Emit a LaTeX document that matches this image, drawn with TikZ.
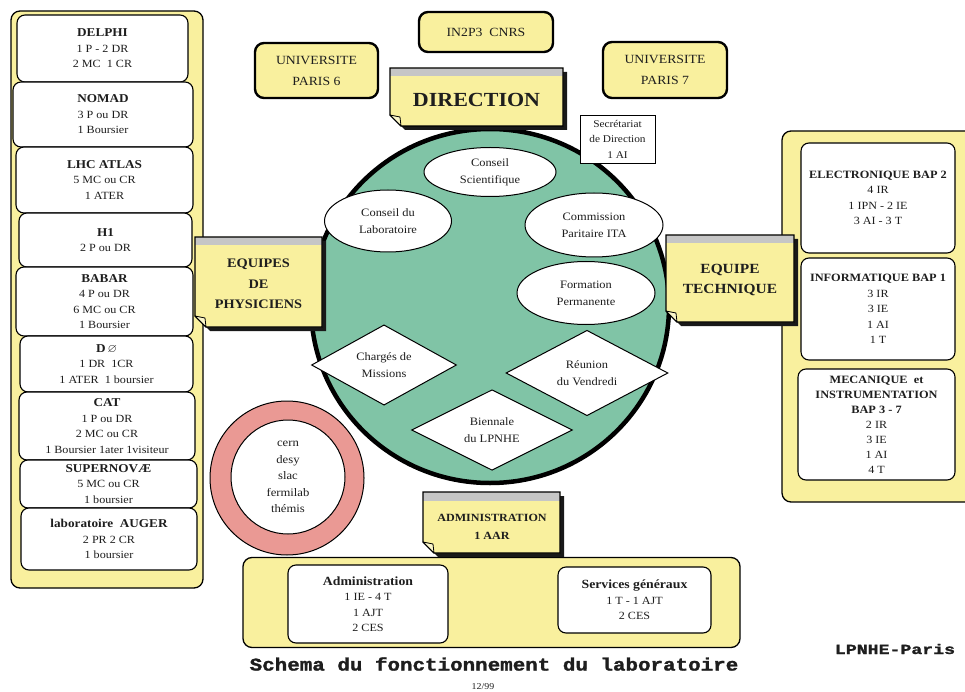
\documentclass[tikz,border=0pt]{standalone}
\usepackage{amssymb}
\usepackage{fontspec}
\setmainfont{Liberation Serif}[FakeStretch=1.1]
\newfontfamily\titlefont{Liberation Mono}[FakeStretch=1.16, BoldFeatures={FakeBold=1.5}]
\newfontfamily\lpfont{Liberation Mono}[FakeStretch=1.3, BoldFeatures={FakeBold=1.2}]
\usetikzlibrary{shapes.geometric}
\definecolor{yel}{RGB}{249,240,158}
\definecolor{grn}{RGB}{128,196,166}
\definecolor{pnk}{RGB}{234,153,148}
\definecolor{stripc}{RGB}{198,198,198}
\definecolor{ink}{RGB}{30,30,30}
\definecolor{shadowc}{RGB}{25,25,25}
\newcommand\bhead[1]{{\bfseries\fontsize{12}{15.5}\selectfont #1}}
\newcommand\rhead[1]{{\bfseries\fontsize{11.2}{15.3}\selectfont #1}}
\begin{document}
\begin{tikzpicture}[x=1pt,y=-1pt,
  panel/.style={draw=black, line width=1.3pt, fill=yel, rounded corners=9pt, inner sep=0pt},
  wbox/.style={draw=black, line width=1.1pt, fill=white, rounded corners=8pt, align=center, inner sep=0pt, text=ink, font=\fontsize{11}{15.5}\selectfont},
  ubox/.style={draw=black, line width=2.4pt, fill=yel, rounded corners=9pt, align=center, inner sep=0pt, text=ink, font=\fontsize{12.5}{21}\selectfont},
  ell/.style={ellipse, draw=black, line width=1pt, fill=white, align=center, inner sep=0pt, text=ink, font=\fontsize{11.3}{17}\selectfont},
  dia/.style={diamond, draw=black, line width=1pt, fill=white, align=center, inner sep=0pt, text=ink, font=\fontsize{11.3}{17}\selectfont},
  notearea/.style={inner sep=0pt, outer sep=0pt},
  notetext/.style={align=center, text=ink, inner sep=0pt}
]
\path[use as bounding box, clip] (0,0) rectangle (965,692);
\fill[white] (0,0) rectangle (965,692);

% panels
\node[panel, minimum width=192, minimum height=577] (lpanel) at (107,299.5) {};
\node[panel, minimum width=200, minimum height=371] (rpanel) at (882,316.5) {};
\node[panel, minimum width=497, minimum height=90] (bpanel) at (491.5,602.5) {};

% left boxes
\node[wbox, minimum width=171, minimum height=67] (delphi) at (102.5,48.5) {\bhead{DELPHI}\\1 P - 2 DR\\2 MC\ \ 1 CR};
\node[wbox, minimum width=180, minimum height=65] (nomad) at (103,114.5) {\bhead{NOMAD}\\3 P ou DR\\1 Boursier};
\node[wbox, minimum width=177, minimum height=66] (atlas) at (104.5,180) {\bhead{LHC ATLAS}\\5 MC ou CR\\1 ATER};
\node[wbox, minimum width=173, minimum height=54] (hone) at (105.5,240) {\bhead{H1}\\2 P ou DR};
\node[wbox, minimum width=177, minimum height=69] (babar) at (104.5,301.5) {\bhead{BABAR}\\4 P ou DR\\6 MC ou CR\\1 Boursier};
\node[wbox, minimum width=173, minimum height=56] (dzero) at (106.5,364) {\bhead{D\,$\varnothing$}\\1 DR\ \ 1CR\\1 ATER\ \ 1 boursier};
\node[wbox, minimum width=176, minimum height=68] (cat) at (107,426) {\bhead{CAT}\\1 P ou DR\\2 MC ou CR\\1 Boursier 1ater 1visiteur};
\node[wbox, minimum width=177, minimum height=48] (snova) at (108.5,484) {\bhead{SUPERNOVÆ}\\5 MC ou CR\\1 boursier};
\node[wbox, minimum width=176, minimum height=62] (auger) at (109,539) {\bhead{laboratoire\ \ AUGER}\\2 PR 2 CR\\1 boursier};

% right boxes
\node[wbox, minimum width=154, minimum height=110] (elec) at (878,198) {\rhead{ELECTRONIQUE BAP 2}\\4 IR\\1 IPN - 2 IE\\3 AI - 3 T};
\node[wbox, minimum width=154, minimum height=102] (info) at (878,309) {\rhead{INFORMATIQUE BAP 1}\\3 IR\\3 IE\\1 AI\\1 T};
\node[wbox, minimum width=157, minimum height=111, font=\fontsize{11}{15}\selectfont] (meca) at (876.5,424.5) {\rhead{MECANIQUE\ \ et}\\\rhead{INSTRUMENTATION}\\\rhead{BAP 3 - 7}\\2 IR\\3 IE\\1 AI\\4 T};

% bottom boxes
\node[wbox, minimum width=160, minimum height=78] (admbox) at (368,604) {{\bfseries\fontsize{12.5}{15.5}\selectfont Administration}\\1 IE - 4 T\\1 AJT\\2 CES};
\node[wbox, minimum width=153, minimum height=66] (serv) at (634.5,600) {{\bfseries\fontsize{12.5}{15.5}\selectfont Services généraux}\\1 T - 1 AJT\\2 CES};

% top boxes
\node[ubox, minimum width=123, minimum height=55] (up6) at (316.5,70.5) {UNIVERSITE\\PARIS 6};
\node[ubox, minimum width=134, minimum height=40] (in2p3) at (486,32) {IN2P3\ \ CNRS};
\node[ubox, minimum width=124, minimum height=56] (up7) at (665,70) {UNIVERSITE\\PARIS 7};

% big circle
\node[ellipse, draw=black, line width=4.5pt, fill=grn, minimum width=358, minimum height=354] (circ) at (490,306) {};
\node[ell, minimum width=132, minimum height=49] (cs) at (490,172) {Conseil\\Scientifique};
\node[ell, minimum width=127, minimum height=62] (cl) at (388,221) {Conseil du\\Laboratoire};
\node[ell, minimum width=138, minimum height=64] (cp) at (594,225) {Commission\\Paritaire ITA};
\node[ell, minimum width=138, minimum height=63] (fp) at (586,293) {Formation\\Permanente};
\node[dia, minimum width=145, minimum height=73] (cm) at (384,365) {Chargés de\\Missions};
\node[dia, minimum width=162, minimum height=74] (rv) at (587,373) {Réunion\\du Vendredi};
\node[dia, minimum width=161, minimum height=76] (bl) at (492,430) {Biennale\\du LPNHE};

% secretariat
\node[draw=black, line width=0.8pt, fill=white, minimum width=75, minimum height=48, inner sep=0pt, align=center, text=ink, font=\fontsize{10.3}{15.5}\selectfont] (secr) at (617.5,139) {Secrétariat\\de Direction\\1 AI};

% ring
\node[circle, draw=black, line width=1pt, fill=pnk, minimum size=154, inner sep=0pt] (ringO) at (287,478) {};
\node[circle, draw=black, line width=1pt, fill=white, minimum size=114, inner sep=0pt, align=center, text=ink, font=\fontsize{11.5}{16.5}\selectfont] (ringI) at (288,477) {cern\\desy\\slac\\fermilab\\thémis};

% note boxes
\node[notearea, minimum width=173, minimum height=58] (dir) at (476.5,97) {};
\node[notearea, minimum width=127, minimum height=90] (phys) at (258.5,282) {};
\node[notearea, minimum width=128, minimum height=87] (tech) at (730,278.5) {};
\node[notearea, minimum width=137, minimum height=61] (adm) at (491.5,522.5) {};
\foreach \n in {dir,phys,tech,adm}{
  \fill[shadowc] ([shift={(4,4)}]\n.north west) -- ([shift={(4,4)}]\n.north east) -- ([shift={(4,4)}]\n.south east) -- ([shift={(15,4)}]\n.south west) -- ([shift={(4,-7)}]\n.south west) -- cycle;
  \fill[yel] (\n.north west) -- (\n.north east) -- (\n.south east) -- ([shift={(11,0)}]\n.south west) -- ([shift={(0,-11)}]\n.south west) -- cycle;
  \fill[stripc] (\n.north west) rectangle ([shift={(0,8.5)}]\n.north east);
  \draw[line width=1.2pt, line join=miter] (\n.north west) -- (\n.north east) -- (\n.south east) -- ([shift={(11,0)}]\n.south west) -- ([shift={(0,-11)}]\n.south west) -- cycle;
  \filldraw[fill=yel!55!white, line width=0.8pt, line join=round] ([shift={(0,-11)}]\n.south west) -- ([shift={(10,-9)}]\n.south west) -- ([shift={(11,0)}]\n.south west) -- cycle;
}
\node[notetext, font=\fontsize{20}{24}\selectfont\bfseries] (dirT) at (476.5,100) {DIRECTION};
\node[notetext, font=\fontsize{13}{20.5}\selectfont\bfseries] (physT) at (258.5,284) {EQUIPES\\DE\\PHYSICIENS};
\node[notetext, font=\fontsize{14}{20.5}\selectfont\bfseries] (techT) at (730,280) {EQUIPE\\TECHNIQUE};
\node[notetext, font=\fontsize{11}{18}\selectfont\bfseries] (admT) at (492,527) {ADMINISTRATION\\1 AAR};

% captions
\node[inner sep=0pt, text=ink, font=\titlefont\bfseries\fontsize{18}{20}\selectfont] (title) at (494,664) {Schema du fonctionnement du laboratoire};
\node[inner sep=0pt, text=ink, font=\lpfont\bfseries\fontsize{14}{16}\selectfont] (lp) at (895,649) {LPNHE-Paris};
\node[inner sep=0pt, text=ink, font=\fontsize{9}{10}\selectfont] (date) at (483,687) {12/99};
\end{tikzpicture}
\end{document}
